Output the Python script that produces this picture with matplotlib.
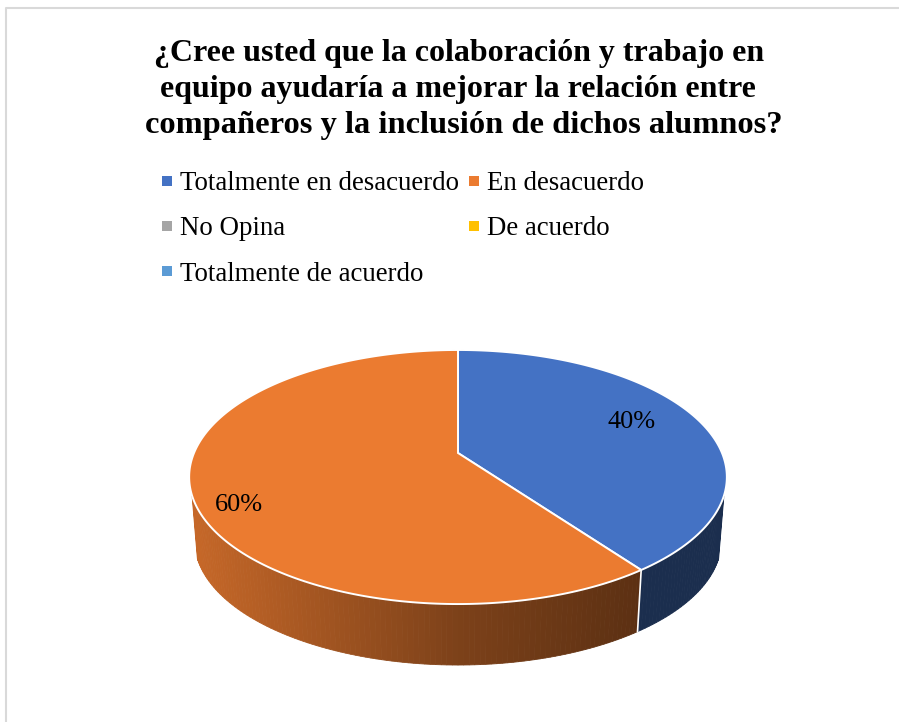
import numpy as np
import matplotlib
matplotlib.use("Agg")
import matplotlib.pyplot as plt
from matplotlib.lines import Line2D

plt.rcParams['font.family'] = ['Liberation Serif', 'DejaVu Serif']

title_lines = ["¿Cree usted que la colaboración y trabajo en",
               "equipo ayudaría a mejorar la relación entre",
               "compañeros y la inclusión de dichos alumnos?"]
categories = ["Totalmente en desacuerdo", "En desacuerdo", "No Opina", "De acuerdo", "Totalmente de acuerdo"]
values = [40, 60, 0, 0, 0]
colors = ["#4472c4", "#eb7b30", "#a5a5a5", "#ffc000", "#5b9bd5"]

# pie geometry in pixels, k gives the perspective of the tilted disc
cx, cy = 458, 453
rx, ry, k = 264, 122.5, 0.189
depth, shrink = 64, 0.98


def project(theta, r=1.0, down=0.0, scale=1.0):
    c = r * np.cos(theta)
    s = r * np.sin(theta)
    d = 1 + k * s
    return cx + scale * rx * c / d, cy + down - scale * ry * s / d


def wall_shade(x, i):
    if i == 0:
        return 0.4
    u = (x - cx) / rx
    return np.interp(u, [-1, 0, 0.7], [0.84, 0.53, 0.39])


fig = plt.figure(figsize=(8.99, 7.22), dpi=100)
ax = fig.add_axes([0, 0, 1, 1])
ax.set_xlim(0, 899)
ax.set_ylim(722, 0)
ax.axis("off")

# chart frame
ax.plot([5.5, 5.5, 899], [722, 7.5, 7.5], color="#d9d9d9", lw=1.5)

total = sum(values)
angle = np.pi / 2
wedges = []
for i, v in enumerate(values):
    if v == 0:
        continue
    sweep = 2 * np.pi * v / total
    wedges.append((i, angle, angle - sweep))
    angle -= sweep

# side wall
base = np.array(matplotlib.colors.to_rgb(colors[0])), np.array(matplotlib.colors.to_rgb(colors[1]))
for i, a0, a1 in wedges:
    n = max(2, int(abs(a1 - a0) * 180 / np.pi))
    th = np.linspace(a0, a1, n + 1)
    for t0, t1 in zip(th[:-1], th[1:]):
        if np.sin((t0 + t1) / 2) > -0.33:
            continue
        xa, ya = project(t0)
        xb, yb = project(t1)
        xc, yc = project(t1, down=depth, scale=shrink)
        xd, yd = project(t0, down=depth, scale=shrink)
        col = base[i] * wall_shade((xa + xb) / 2, i)
        ax.fill([xa, xb, xc, xd], [ya, yb, yc, yd], color=col, lw=0.6, zorder=2)

# top face
for i, a0, a1 in wedges:
    th = np.linspace(a0, a1, 300)
    x, y = project(th)
    ax.fill(np.r_[cx, x], np.r_[cy, y], facecolor=colors[i], edgecolor="white", lw=1.4, zorder=3)

# seam between the two wall parts
seam = wedges[0][2]
x0, y0 = project(seam)
x1, y1 = project(seam, down=depth, scale=shrink)
ax.plot([x0, x1], [y0, y1], color="white", lw=1.2, zorder=3)

# labels
label_r = [0.72, 0.83]
label_dy = [-5, 19]
for n, (i, a0, a1) in enumerate(wedges):
    lx, ly = project((a0 + a1) / 2, r=label_r[n])
    ax.text(lx, ly + label_dy[n], "%d%%" % values[i], fontsize=19, color="black", ha="center", va="center", zorder=4)

title_x = [459, 458, 463.5]
title_y = [54, 90, 126]
title_size = [23.0, 23.0, 23.4]
for line, tx, ty, ts in zip(title_lines, title_x, title_y, title_size):
    ax.text(tx, ty, line, fontsize=ts, fontweight="bold", ha="center", va="center", color="black")

handles = [Line2D([], [], ls="none", marker="s", ms=6.6, mew=0, color=c) for c in colors]
order = [0, 2, 4, 1, 3]
fig.legend([handles[i] for i in order], [categories[i] for i in order], ncol=2, frameon=False,
           loc="upper left", bbox_to_anchor=(162 / 899, 1 - 171 / 722), fontsize=19.35,
           handlelength=0.38, handletextpad=0.3, columnspacing=0.34, labelspacing=0.76, borderpad=0, borderaxespad=0)

fig.savefig("out.png", dpi=100)
